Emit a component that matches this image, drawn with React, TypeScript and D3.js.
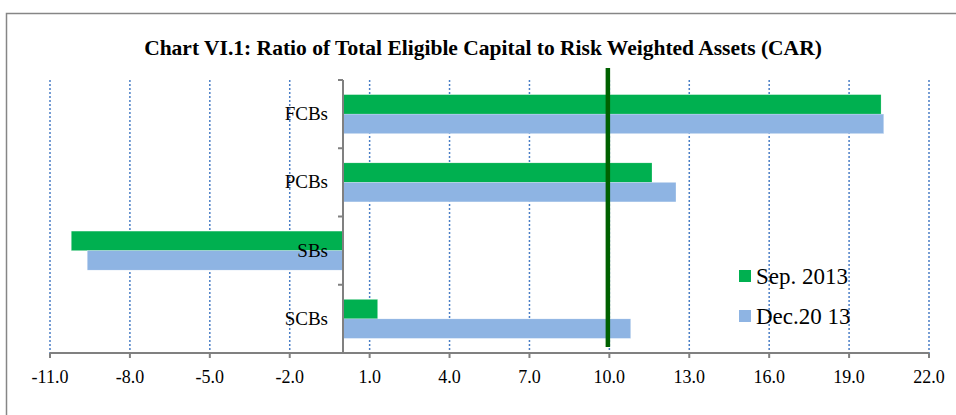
import React from "react";
import * as d3 from "d3";

const categories = ["FCBs", "PCBs", "SBs", "SCBs"];
const seriesNames = ["Sep. 2013", "Dec.20 13"];
const sep2013 = [20.2, 11.6, -10.2, 1.3];
const dec2013 = [20.3, 12.5, -9.6, 10.8];
const tickValues = [-11, -8, -5, -2, 1, 4, 7, 10, 13, 16, 19, 22];
const minimumCAR = 10;
const title = "Chart VI.1: Ratio of Total Eligible Capital to Risk Weighted Assets (CAR)";

const W = 956;
const H = 415;
const colors = ["#00B050", "#8EB4E3"];

export default function App() {
  const left = 50, right = 929, top = 80, bottom = 353;
  const x = d3.scaleLinear().domain([-11, 22]).range([left, right]);
  const y = d3.scaleBand<string>().domain(categories).range([top, bottom]);
  const band = y.bandwidth();
  const barH = 19.5;
  const groupH = barH * 2;
  const series = [sep2013, dec2013];
  const serif = "'Liberation Serif', 'Times New Roman', serif";
  const x0 = x(0);
  const fmt = (t: number) => d3.format(".1f")(t).replace("\u2212", "-");

  return (
    <svg width={W} height={H} style={{ position: "absolute", left: 0, top: 0, background: "#fff" }} fontFamily={serif}>
      <rect x={6.5} y={13.5} width={W + 10} height={H + 10} fill="#fff" stroke="#868686" strokeWidth={1.5} />
      <text x={483} y={55} textAnchor="middle" fontSize={21.5} fontWeight="bold" fill="#000">{title}</text>
      {tickValues.map((t) => (
        <line key={"g" + t} x1={x(t)} x2={x(t)} y1={top} y2={bottom} stroke="#4A7EC6" strokeWidth={1.5} strokeDasharray="2,2" />
      ))}
      {categories.map((c, i) =>
        series.map((s, j) => {
          const v = s[i];
          const yy = (y(c) as number) + (band - groupH) / 2 + j * barH;
          return (
            <rect key={c + j} x={Math.min(x(v), x0)} y={yy} width={Math.abs(x(v) - x0)} height={barH} fill={colors[j]} stroke="#fff" strokeOpacity={0.4} strokeWidth={0.5} />
          );
        })
      )}
      <line x1={x0} x2={x0} y1={top} y2={bottom} stroke="#808080" strokeWidth={2} />
      {[...categories.map((c) => y(c) as number), bottom].map((v, i) => (
        <line key={"yt" + i} x1={x0 - 5} x2={x0} y1={v} y2={v} stroke="#808080" strokeWidth={2} />
      ))}
      <line x1={left} x2={right} y1={bottom} y2={bottom} stroke="#808080" strokeWidth={2} />
      {tickValues.map((t) => (
        <g key={"t" + t}>
          <line x1={x(t)} x2={x(t)} y1={bottom} y2={bottom + 5} stroke="#808080" strokeWidth={2} />
          <text x={x(t)} y={383} textAnchor="middle" fontSize={18} fill="#000">{fmt(t)}</text>
        </g>
      ))}
      {categories.map((c) => (
        <text key={"l" + c} x={328} y={(y(c) as number) + band / 2 + 6} textAnchor="end" fontSize={19} fill="#000">{c}</text>
      ))}
      <line x1={x(minimumCAR) - 1.5} x2={x(minimumCAR) - 1.5} y1={68} y2={347} stroke="#006100" strokeWidth={4.5} />
      {seriesNames.map((n, j) => (
        <g key={"lg" + j}>
          <rect x={739} y={270 + j * 40} width={12} height={12} fill={colors[j]} />
          <text x={756} y={284 + j * 40} fontSize={23} fill="#000">{n}</text>
        </g>
      ))}
    </svg>
  );
}
